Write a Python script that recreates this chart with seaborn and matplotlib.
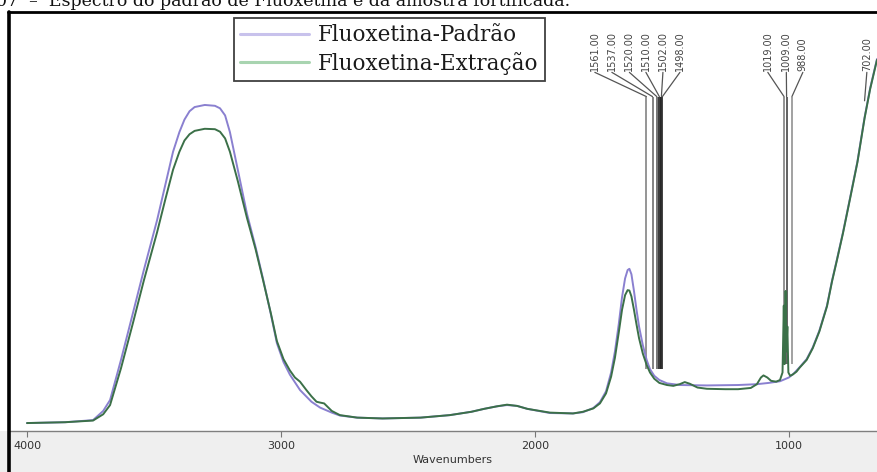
import pandas as pd
import seaborn as sns
import matplotlib.pyplot as plt
from matplotlib.lines import Line2D
from matplotlib.patches import Rectangle

# Spectrum of the standard (Padrão)
wn_padrao = [4000, 3850, 3740, 3700, 3673, 3630, 3583, 3540, 3488, 3455, 3425, 3400, 3380, 3360,
             3340, 3300, 3260, 3240, 3220, 3201, 3170, 3134, 3100, 3071, 3040, 3016, 2990, 2965,
             2925, 2880, 2846, 2800, 2768, 2700, 2600, 2450, 2335, 2250, 2200, 2150, 2110, 2070,
             2030, 1941, 1850, 1811, 1770, 1744, 1720, 1700, 1685, 1670, 1657, 1645, 1635, 1628,
             1620, 1610, 1600, 1590, 1575, 1560, 1547, 1530, 1510, 1480, 1429, 1323, 1200, 1126,
             1080, 1035, 1000, 980, 957, 930, 906, 880, 850, 830, 811, 787, 760, 730, 702, 680, 653]
abs_padrao = [.019, .021, .026, .048, .074, .170, .282, .385, .504, .590, .668, .715, .745, .765,
              .775, .780, .778, .772, .755, .715, .625, .520, .440, .365, .280, .210, .165, .135,
              .098, .070, .056, .044, .037, .032, .030, .032, .038, .046, .053, .059, .062, .060,
              .053, .043, .042, .045, .055, .069, .095, .140, .190, .255, .320, .365, .385, .388,
              .375, .335, .290, .250, .205, .170, .148, .132, .122, .114, .110, .109, .110, .112,
              .115, .119, .128, .138, .153, .172, .200, .240, .300, .360, .410, .475, .555, .645,
              .750, .820, .890]

# Spectrum of the fortified sample (Extração)
wn_extracao = [4000, 3850, 3740, 3700, 3673, 3630, 3583, 3540, 3488, 3455, 3425, 3400, 3380, 3360,
               3340, 3300, 3260, 3240, 3220, 3201, 3170, 3134, 3100, 3071, 3040, 3016, 2990, 2965,
               2945, 2925, 2900, 2880, 2860, 2846, 2830, 2800, 2768, 2700, 2600, 2450, 2335, 2250,
               2200, 2150, 2110, 2070, 2030, 1941, 1850, 1811, 1770, 1744, 1720, 1700, 1685, 1670,
               1657, 1645, 1635, 1628, 1620, 1610, 1600, 1590, 1575, 1560, 1547, 1530, 1510, 1480,
               1455, 1430, 1410, 1390, 1360, 1323, 1250, 1200, 1150, 1126, 1110, 1100, 1085, 1070,
               1050, 1035, 1025, 1020, 1017, 1013, 1010, 1006, 1002, 995, 985, 970, 957, 930, 906,
               880, 850, 830, 811, 787, 760, 730, 702, 680, 653]
abs_extracao = [.019, .021, .025, .040, .062, .150, .258, .360, .475, .555, .625, .668, .695, .710,
                .718, .723, .722, .716, .700, .668, .598, .510, .435, .362, .282, .215, .172, .145,
                .128, .118, .098, .083, .070, .068, .066, .048, .038, .032, .030, .032, .038, .046,
                .053, .059, .063, .060, .053, .044, .042, .046, .054, .066, .090, .130, .175, .235,
                .290, .325, .337, .336, .322, .290, .255, .222, .185, .158, .140, .125, .115, .110,
                .108, .112, .117, .113, .104, .101, .100, .100, .103, .112, .128, .133, .128, .120,
                .118, .122, .140, .300, .160, .335, .190, .250, .140, .132, .135, .142, .152, .170,
                .198, .238, .298, .358, .408, .473, .553, .643, .748, .818, .888]

series_names = ['Fluoxetina-Padrão', 'Fluoxetina-Extração']

# Peak annotations
peaks_left = [1561, 1537, 1520, 1510, 1502, 1498]
peaks_right = [1019, 1009, 988]
peak_end = 702

df = pd.concat([
    pd.DataFrame({'wn': wn_padrao, 'a': abs_padrao, 'serie': series_names[0]}),
    pd.DataFrame({'wn': wn_extracao, 'a': abs_extracao, 'serie': series_names[1]}),
])

sns.set_style('white')
plt.rcParams['font.family'] = ['DejaVu Sans']

W, H = 877, 472
fig = plt.figure(figsize=(W / 100, H / 100), dpi=100)
fig.patch.set_facecolor('white')
# grey band under the plot
fig.patches.append(Rectangle((0, 0), 1, 41 / H, transform=fig.transFigure,
                             facecolor='#efefef', edgecolor='none', zorder=-1))

ax = fig.add_axes([10 / W, 41 / H, 1 - 10 / W, (431 - 13) / H])
ax.set_facecolor('white')

# peak marker lines
left_cols = ['#8c8c8c', '#7a7a7a', '#6a6a6a', '#2a2a2a', '#111111', '#303030']
right_cols = ['#8a8a8a', '#555555', '#9a9a9a']
ax.vlines(peaks_left, 0.148, 0.80, colors=left_cols, lw=1.3, zorder=2)
ax.vlines(peaks_right, 0.16, 0.80, colors=right_cols, lw=1.3, zorder=2)

sns.lineplot(data=df, x='wn', y='a', hue='serie', palette=['#8a80d0', '#3b7048'],
             lw=1.4, ax=ax, legend=False, zorder=3)

# labels for the peaks, fanned out above the lines
lab_left = [1764, 1697, 1628, 1563, 1496, 1429]
lab_right = [1083, 1010, 945]
for pk, lx in zip(peaks_left + peaks_right + [peak_end], lab_left + lab_right + [693]):
    ax.plot([lx, pk], [0.858, 0.80 if pk != peak_end else 0.79], color='#555555', lw=0.9, zorder=2)
    ax.text(lx, 0.862, f'{pk:.2f}', rotation=90, ha='center', va='bottom',
            fontsize=7, color='#444444')

ax.set_xlim(4067, 653)
ax.set_ylim(0, 1.0)
ax.set_yticks([])
ax.set_ylabel('')
ax.set_xticks([4000, 3000, 2000, 1000])
ax.tick_params(axis='x', direction='out', bottom=True, length=4, width=0.8, color='#777777',
               labelsize=8, labelcolor='#333333', pad=3)
ax.set_xlabel('Wavenumbers', fontsize=8, color='#333333')
ax.xaxis.set_label_coords(0.51, -0.058)
for s in ['left', 'right', 'top']:
    ax.spines[s].set_visible(False)
ax.spines['bottom'].set_color('#7f7f7f')
ax.spines['bottom'].set_linewidth(1.0)

# legend
handles = [Line2D([], [], color='#c8c2ec', lw=2.2), Line2D([], [], color='#a8d4b0', lw=2.2)]
leg = ax.legend(handles, series_names, loc='upper left', bbox_to_anchor=(234 / W, 1 - 18 / H),
                bbox_transform=fig.transFigure, frameon=True, fancybox=False,
                prop={'family': 'DejaVu Serif', 'size': 15.5}, handlelength=3.2,
                handletextpad=0.4, labelspacing=0.25, borderpad=0.3, borderaxespad=0)
leg.get_frame().set_edgecolor('#111111')
leg.get_frame().set_linewidth(1.3)
for t in leg.get_texts():
    t.set_color('#1a1a1a')

# window frame: thick left and top border
fig.add_artist(Line2D([9 / W, 9 / W], [0, 1 - 12 / H], transform=fig.transFigure,
                      color='black', lw=2.6, zorder=10))
fig.add_artist(Line2D([8 / W, 1], [1 - 12 / H, 1 - 12 / H], transform=fig.transFigure,
                      color='black', lw=2.0, zorder=10))

# caption of the figure, cut at the top of the screenshot (as in the source page)
fig.text(-0.004, 1 - 6.5 / H, '07  –  Espectro do padrão de Fluoxetina e da amostra fortificada.',
         family='DejaVu Serif', fontsize=12.5, color='#111111', va='baseline', ha='left')

fig.savefig('out.png', dpi=100)
